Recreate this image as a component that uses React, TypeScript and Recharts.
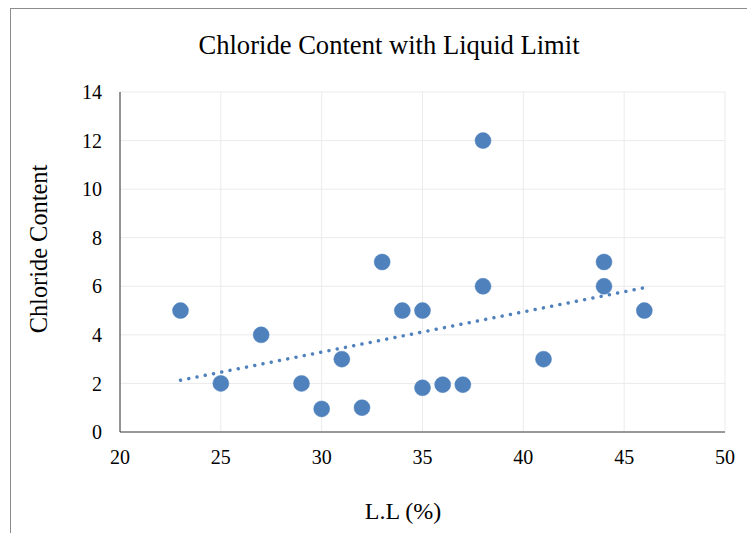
import React from "react";
import {
  ScatterChart,
  Scatter,
  XAxis,
  YAxis,
  CartesianGrid,
} from "recharts";

// Liquid limit (%) and chloride content
const liquidLimit = [23, 25, 27, 29, 30, 31, 32, 33, 34, 35, 35, 36, 37, 38, 38, 41, 44, 44, 46];
const chloride = [5, 2, 4, 2, 0.95, 3, 1, 7, 5, 5, 1.82, 1.95, 1.95, 12, 6, 3, 7, 6, 5];

// linear trendline end points (Excel dotted trendline)
const trendX = [23, 46];
const trendY = [2.13, 5.94];

const xTicks = [20, 25, 30, 35, 40, 45, 50];
const yTicks = [0, 2, 4, 6, 8, 10, 12, 14];

const points = liquidLimit.map((x, i) => ({ x, y: chloride[i] }));
const trend = trendX.map((x, i) => ({ x, y: trendY[i] }));

const BLUE = "#4f81bd";
const FONT = "Liberation Serif";

const Dot = (props: any) => {
  const { cx, cy } = props;
  if (cx == null || cy == null) return null;
  return <circle cx={cx} cy={cy} r={8} fill={BLUE} stroke={BLUE} strokeWidth={0.5} />;
};

const NoDot = () => <g />;

const XTick = (props: any) => {
  const { x, y, payload } = props;
  return (
    <text x={x} y={y} dy="0.71em" textAnchor="middle" style={{ fontSize: 20, fontFamily: FONT, fill: "#000" }}>
      {payload.value}
    </text>
  );
};

const YTick = (props: any) => {
  const { x, y, payload } = props;
  return (
    <text x={x} y={y} dy="0.355em" textAnchor="end" style={{ fontSize: 20, fontFamily: FONT, fill: "#000" }}>
      {payload.value}
    </text>
  );
};

const App: React.FC = () => {
  return (
    <div style={{ position: "relative", width: 747, height: 525, fontFamily: FONT }}>
      {/* chart area frame, only left and top edges show in the crop */}
      <div
        style={{
          position: "absolute",
          left: 2,
          top: 0,
          width: 760,
          height: 540,
          borderLeft: "1px solid #8c8c8c",
          borderTop: "1px solid #8c8c8c",
          boxSizing: "border-box",
        }}
      />
      <div
        style={{
          position: "absolute",
          left: 381 - 250,
          top: 24,
          width: 500,
          fontSize: 26.6,
          lineHeight: "26px",
          textAlign: "center",
          color: "#000",
        }}
      >
        Chloride Content with Liquid Limit
      </div>
      <div
        style={{
          position: "absolute",
          left: 30.5 - 150,
          top: 241 - 12,
          width: 300,
          height: 24,
          fontSize: 24.4,
          lineHeight: "24px",
          textAlign: "center",
          transform: "rotate(-90deg)",
          color: "#000",
        }}
      >
        Chloride Content
      </div>
      <div
        style={{
          position: "absolute",
          left: 395 - 100,
          top: 491,
          width: 200,
          fontSize: 24,
          lineHeight: "24px",
          textAlign: "center",
          color: "#000",
        }}
      >
        L.L (%)
      </div>
      <div style={{ position: "absolute", left: 0, top: 0, fontFamily: FONT }}>
        <ScatterChart
          width={747}
          height={525}
          margin={{ top: 84, right: 30, left: 52, bottom: 61 }}
        >
          <CartesianGrid stroke="#ebebeb" strokeWidth={1} />
          <XAxis
            type="number"
            dataKey="x"
            domain={[20, 50]}
            ticks={xTicks}
            allowDataOverflow
            height={40}
            tickLine={false}
            tickSize={6}
            tickMargin={12}
            axisLine={{ stroke: "#7a7a7a", strokeWidth: 1.5 }}
            tick={<XTick />}
          />
          <YAxis
            type="number"
            dataKey="y"
            domain={[0, 14]}
            ticks={yTicks}
            allowDataOverflow
            width={60}
            tickLine={false}
            tickSize={6}
            tickMargin={12}
            axisLine={{ stroke: "#333333", strokeWidth: 1 }}
            tick={<YTick />}
          />
          <Scatter
            data={trend}
            isAnimationActive={false}
            shape={NoDot}
            line={{
              stroke: BLUE,
              strokeWidth: 3.5,
              strokeDasharray: "0.01 8.4",
              strokeLinecap: "round",
            }}
            legendType="none"
          />
          <Scatter data={points} isAnimationActive={false} shape={Dot} fill={BLUE} />
        </ScatterChart>
      </div>
    </div>
  );
};

export default App;
